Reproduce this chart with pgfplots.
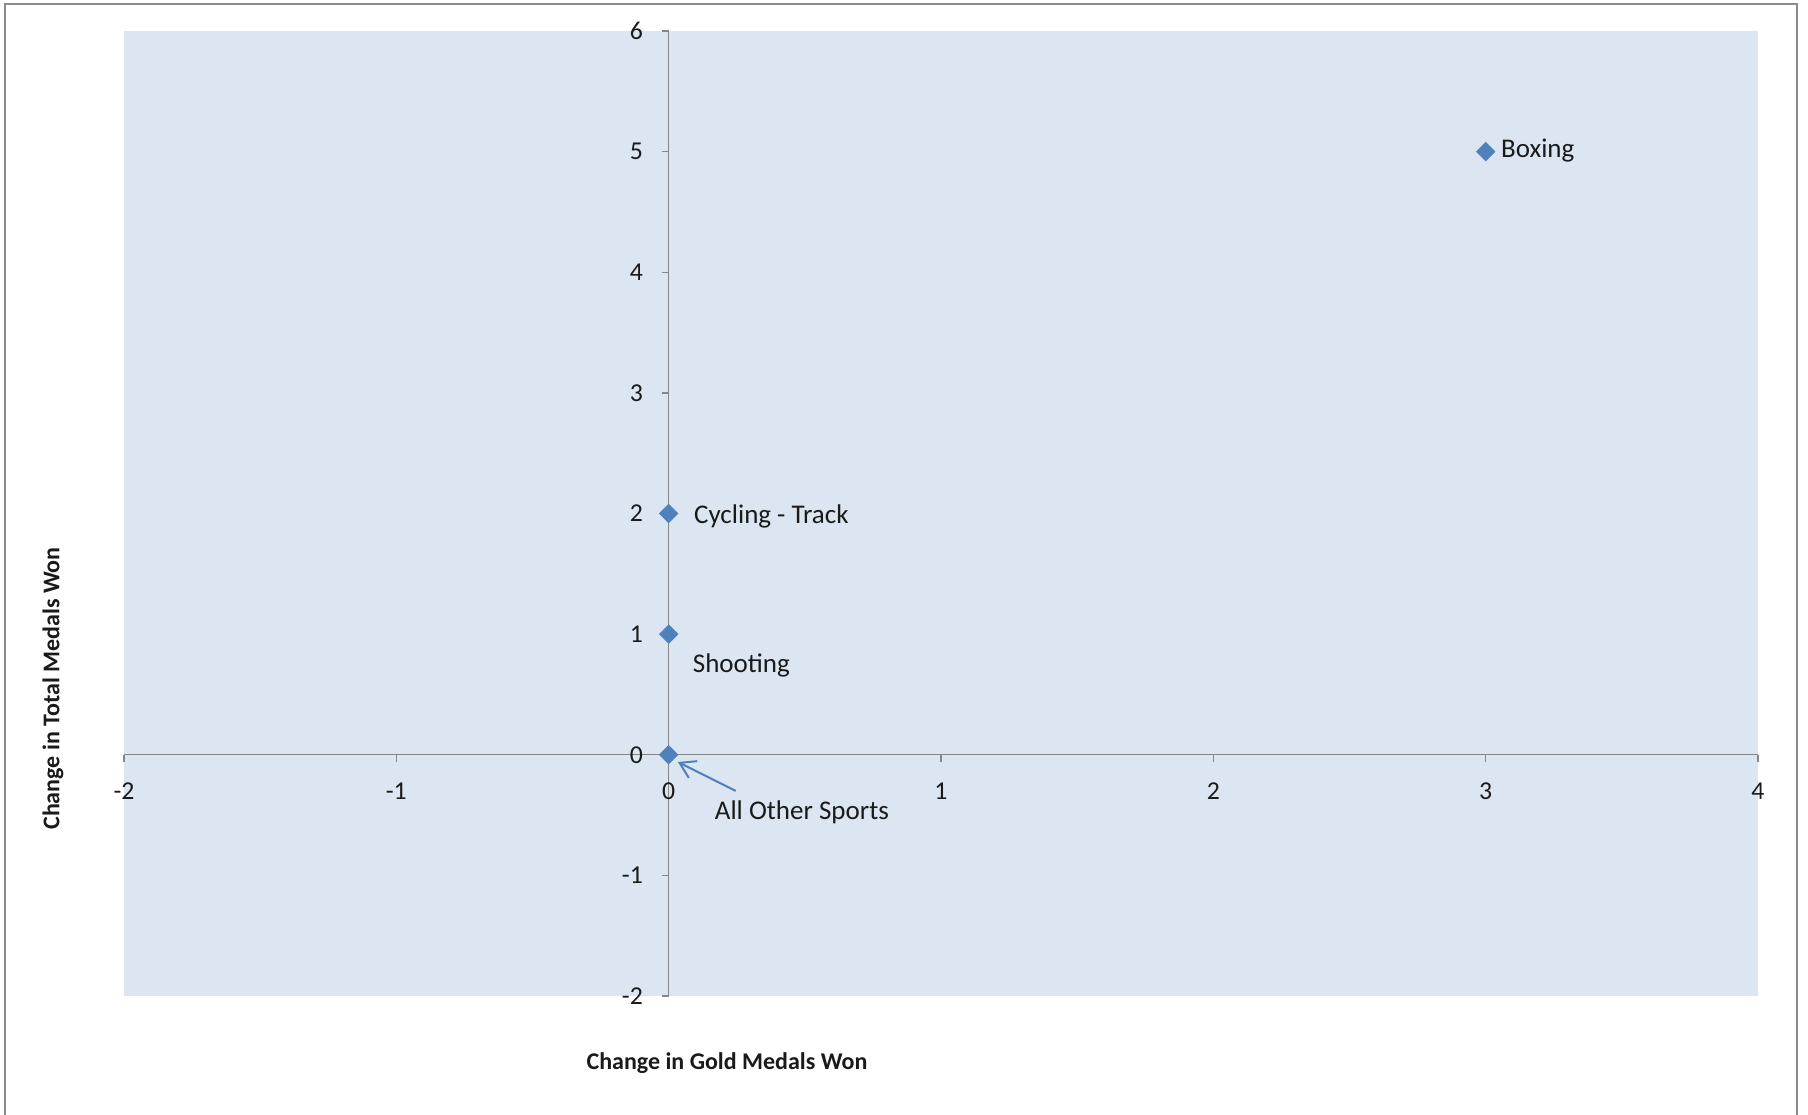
\documentclass[border=0pt]{standalone}
\usepackage{pgfplots}
\pgfplotsset{compat=1.18}
\usetikzlibrary{arrows.meta}
\usepackage{fontspec}
\setmainfont{Carlito}
\definecolor{plotbg}{HTML}{DCE6F2}
\definecolor{mk}{HTML}{4F81BD}
\definecolor{axgray}{HTML}{868686}
\definecolor{frame}{HTML}{8C8C8C}
\definecolor{txt}{HTML}{1A1A1A}
\begin{document}
\begin{tikzpicture}
\useasboundingbox (0pt,0pt) rectangle (723.2pt,445.6pt);
\draw[frame, line width=0.8pt] (2pt,-8pt) -- (2pt,444pt) -- (718.8pt,444pt) -- (718.8pt,-8pt);
\fill[plotbg] (49.6pt,47.2pt) rectangle (703.2pt,433.2pt);
\begin{axis}[
  at={(49.6pt,47.2pt)}, anchor=south west,
  width=653.6pt, height=386pt, scale only axis,
  xmin=-2, xmax=4, ymin=-2, ymax=6,
  axis lines=middle,
  axis line style={draw=axgray, line width=0.5pt, -},
  xtick={-2,-1,0,1,2,3,4},
  ytick={-2,-1,0,1,2,3,4,5,6},
  hide obscured x ticks=false, hide obscured y ticks=false,
  tick align=outside,
  major tick length=2.8pt,
  tick style={draw=axgray, line width=0.5pt},
  /pgf/number format/assume math mode=true,
  ticklabel style={font=\fontsize{10.3}{12}\selectfont, text=txt},
  xticklabel style={anchor=north, yshift=-5pt},
  yticklabel style={anchor=east, xshift=-4pt},
  clip=false,
]
\addplot[only marks, mark=square*, mark size=2.55pt, mark options={rotate=45, fill=mk, draw=mk}] coordinates {
  (3,5) (0,2) (0,1) (0,0)
};
\begin{scope}[font=\fontsize{10.8}{13}\selectfont, text=txt]
\node[anchor=west, inner sep=0pt] at ([xshift=6pt,yshift=0.5pt]axis cs:3,5) {Boxing};
\node[anchor=west, inner sep=0pt] at ([xshift=10pt,yshift=-1pt]axis cs:0,2) {Cycling - Track};
\node[anchor=west, inner sep=0pt] at ([xshift=9.5pt,yshift=-12.5pt]axis cs:0,1) {Shooting};
\node[anchor=west, inner sep=0pt] at ([xshift=18.3pt,yshift=-23pt]axis cs:0,0) {All Other Sports};
\end{scope}
\draw[mk, line width=0.8pt, -{Straight Barb[length=6pt,width=7.5pt]}] (axis cs:0.246,-0.30) -- (axis cs:0.034,-0.06);
\end{axis}
\node[font=\bfseries\fontsize{9.6}{11}\selectfont, text=txt] at (290.8pt,20.4pt) {Change in Gold Medals Won};
\node[font=\bfseries\fontsize{9.6}{11}\selectfont, text=txt, rotate=90] at (21.2pt,170.2pt) {Change in Total Medals Won};
\end{tikzpicture}
\end{document}
